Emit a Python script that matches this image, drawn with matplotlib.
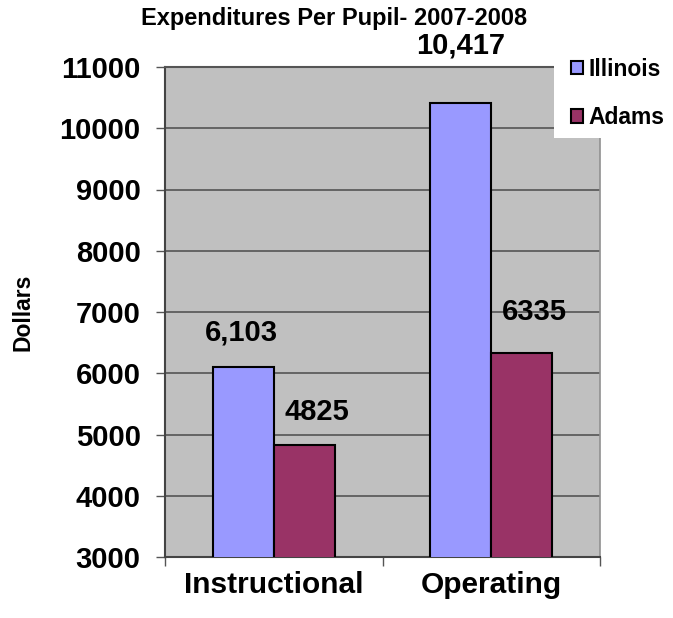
import matplotlib
matplotlib.use('Agg')
import matplotlib.pyplot as plt
from matplotlib.patches import Rectangle
import numpy as np

# Data
categories = ['Instructional', 'Operating']
series_names = ['Illinois', 'Adams']
illinois = [6103, 10417]
adams = [4825, 6335]
illinois_labels = ['6,103', '10,417']
adams_labels = ['4825', '6335']
yticks = [3000, 4000, 5000, 6000, 7000, 8000, 9000, 10000, 11000]

plt.rcParams['font.family'] = ['Liberation Sans', 'DejaVu Sans']
plt.rcParams['font.weight'] = 'bold'

fig = plt.figure(figsize=(6.73, 6.18), dpi=100)
ax = fig.add_axes([165/673, 1-557/618, (600-165)/673, (557-67)/618])
ax.set_facecolor('#C0C0C0')

x = np.arange(len(categories))
w = 0.28
b1 = ax.bar(x - w/2, illinois, w, color='#9999FF', edgecolor='black', linewidth=1.5,
            label=series_names[0], zorder=3)
b2 = ax.bar(x + w/2, adams, w, color='#993366', edgecolor='black', linewidth=1.5,
            label=series_names[1], zorder=3)

# value labels (offsets in points, placed like the original chart)
off1 = [(-1.5, 25), (0, 41)]
off2 = [(9, 24), (9, 29)]
for i in range(len(categories)):
    ax.annotate(illinois_labels[i], (x[i] - w/2, illinois[i]), xytext=off1[i],
                textcoords='offset points', ha='center', va='center',
                fontsize=21, fontweight='bold', zorder=5, annotation_clip=False)
    ax.annotate(adams_labels[i], (x[i] + w/2, adams[i]), xytext=off2[i],
                textcoords='offset points', ha='center', va='center',
                fontsize=21, fontweight='bold', zorder=5)

ax.set_ylim(3000, 11000)
ax.set_xlim(-0.5, 1.5)
ax.set_yticks(yticks)
ax.set_yticklabels([str(t) for t in yticks], fontsize=21, fontweight='bold')
ax.yaxis.grid(True, color='#555555', linewidth=1.2, zorder=1)
ax.set_axisbelow(True)

ax.set_xticks(x)
ax.set_xticklabels(categories, fontsize=21.5, fontweight='bold')
ax.tick_params(axis='x', length=0, pad=10)
ax.set_xticks([-0.5, 0.5, 1.5], minor=True)
ax.tick_params(axis='x', which='minor', length=6.5, width=1, color='#555555', direction='out')
ax.tick_params(axis='y', length=6.5, width=1, color='#555555', direction='out', pad=11)

for s in ['left', 'bottom']:
    ax.spines[s].set_color('#444444')
    ax.spines[s].set_linewidth(1.5)
ax.spines['top'].set_color('#555555')
ax.spines['top'].set_linewidth(1.5)
ax.spines['right'].set_color('#909090')
ax.spines['right'].set_linewidth(1.2)

fig.text(23/673, 1-312/618, 'Dollars', rotation=90, ha='center', va='center',
         fontsize=16.5, fontweight='bold')

fig.text(334/673, 1-19/618, 'Expenditures Per Pupil- 2007-2008', ha='center', va='center',
         fontsize=17, fontweight='bold')

# white legend area
fig.patches.append(Rectangle((554/673, 1-138/618), 119/673, 88/618,
                             transform=fig.transFigure, facecolor='white',
                             edgecolor='none', zorder=4))
leg = fig.legend(handles=[b1, b2], loc='upper left', bbox_to_anchor=(566/673, 1-53/618),
                 frameon=False, prop={'size': 16.5, 'weight': 'bold'},
                 handlelength=0.55, handleheight=0.55, handletextpad=0.25,
                 labelspacing=1.1, borderpad=0.2, borderaxespad=0)
leg.set_zorder(5)
for h in leg.legend_handles:
    h.set_linewidth(1.5)

fig.savefig('out.png', dpi=100)
